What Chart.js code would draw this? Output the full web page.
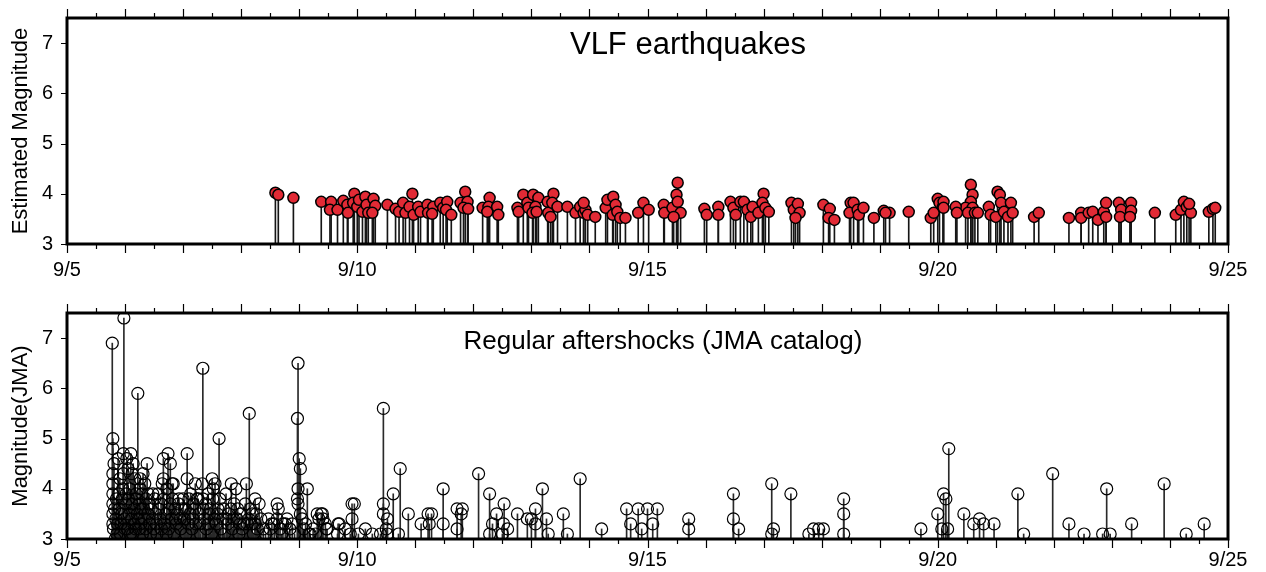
<!DOCTYPE html>
<html lang="en">
<head>
<meta charset="UTF-8">
<title>VLF earthquakes / Regular aftershocks</title>
<script src="https://cdn.jsdelivr.net/npm/chart.js"></script>
<style>
  html, body { margin: 0; padding: 0; background: #fff; }
  canvas { display: block; }
</style>
</head>
<body>
<canvas id="chartVlf" width="1266" height="290"></canvas>
<canvas id="chartJma" width="1266" height="282"></canvas>
<script>
// time = days after 9/5 00:00, value = magnitude
const xTickLabels = ['9/5', '9/10', '9/15', '9/20', '9/25'];
const yTicks = [3, 4, 5, 6, 7];

const vlfEvents = [
  [3.59, 4.02], [3.64, 3.98], [3.90, 3.92], [4.38, 3.84], [4.55, 3.84], [4.53, 3.68], [4.66, 3.68],
  [4.76, 3.86], [4.83, 3.78], [4.84, 3.62], [4.95, 4.00], [4.93, 3.82], [5.00, 3.74], [5.03, 3.88],
  [5.09, 3.64], [5.14, 3.94], [5.16, 3.78], [5.19, 3.62], [5.28, 3.90], [5.31, 3.76], [5.26, 3.62],
  [5.52, 3.78], [5.66, 3.70], [5.72, 3.64], [5.79, 3.82], [5.83, 3.62], [5.95, 4.00], [5.90, 3.74],
  [5.97, 3.58], [6.05, 3.74], [6.09, 3.64], [6.21, 3.78], [6.22, 3.62], [6.31, 3.74], [6.29, 3.60],
  [6.43, 3.82], [6.48, 3.72], [6.55, 3.84], [6.53, 3.68], [6.62, 3.58], [6.78, 3.82], [6.86, 4.04],
  [6.90, 3.84], [6.83, 3.72], [6.91, 3.70], [7.16, 3.72], [7.28, 3.92], [7.26, 3.74], [7.24, 3.64],
  [7.41, 3.74], [7.43, 3.58], [7.76, 3.72], [7.78, 3.64], [7.86, 3.98], [7.93, 3.82], [7.95, 3.72],
  [8.03, 3.98], [8.12, 3.92], [8.07, 3.74], [8.02, 3.62], [8.09, 3.64], [8.28, 3.84], [8.29, 3.62],
  [8.38, 4.00], [8.36, 3.82], [8.45, 3.74], [8.33, 3.54], [8.62, 3.74], [8.76, 3.62], [8.84, 3.74],
  [8.90, 3.62], [8.93, 3.68], [8.90, 3.82], [8.97, 3.58], [9.10, 3.54], [9.28, 3.72], [9.31, 3.88],
  [9.41, 3.94], [9.45, 3.78], [9.40, 3.58], [9.48, 3.64], [9.53, 3.52], [9.62, 3.52], [9.84, 3.62],
  [9.93, 3.82], [10.02, 3.68], [10.28, 3.78], [10.29, 3.62], [10.43, 3.72], [10.52, 4.22], [10.50, 3.98],
  [10.52, 3.84], [10.57, 3.62], [10.45, 3.54], [10.98, 3.70], [11.02, 3.58], [11.22, 3.74], [11.22, 3.58],
  [11.43, 3.84], [11.48, 3.72], [11.52, 3.58], [11.60, 3.84], [11.66, 3.84], [11.72, 3.68], [11.78, 3.54],
  [11.81, 3.74], [11.91, 3.62], [12.00, 4.00], [11.98, 3.82], [12.03, 3.72], [12.09, 3.64], [12.48, 3.82],
  [12.52, 3.68], [12.59, 3.80], [12.62, 3.62], [12.55, 3.52], [13.03, 3.78], [13.14, 3.70], [13.12, 3.52],
  [13.22, 3.48], [13.50, 3.82], [13.55, 3.82], [13.48, 3.62], [13.62, 3.68], [13.64, 3.58], [13.72, 3.72],
  [13.90, 3.52], [14.07, 3.66], [14.17, 3.62], [14.10, 3.62], [14.50, 3.64], [14.88, 3.52], [14.93, 3.62],
  [15.00, 3.90], [15.03, 3.82], [15.09, 3.74], [15.10, 3.84], [15.10, 3.72], [15.57, 4.18], [15.60, 3.98],
  [15.57, 3.84], [15.48, 3.72], [15.60, 3.72], [15.52, 3.62], [15.64, 3.62], [15.69, 3.62], [15.31, 3.74],
  [15.33, 3.62], [15.88, 3.74], [15.91, 3.58], [16.03, 4.04], [16.07, 3.98], [16.09, 3.82], [16.00, 3.54],
  [16.14, 3.64], [16.21, 3.54], [16.26, 3.82], [16.29, 3.62], [16.66, 3.54], [16.74, 3.62], [17.26, 3.52],
  [17.47, 3.62], [17.47, 3.52], [17.60, 3.62], [17.67, 3.64], [17.76, 3.48], [17.86, 3.64], [17.90, 3.82],
  [17.90, 3.54], [18.12, 3.82], [18.16, 3.68], [18.14, 3.54], [18.33, 3.82], [18.33, 3.66], [18.31, 3.54],
  [18.74, 3.62], [19.10, 3.58], [19.19, 3.68], [19.24, 3.84], [19.29, 3.74], [19.36, 3.62], [19.33, 3.80],
  [19.67, 3.64], [19.74, 3.70], [19.78, 3.72]
];

const jmaEvents = [
  // largest shocks
  [0.78, 6.9], [0.79, 5.0], [0.79, 4.8], [0.98, 7.4], [1.22, 5.9], [2.34, 6.4], [2.62, 5.0],
  [3.14, 5.5], [3.98, 6.5], [3.97, 5.4], [5.45, 5.6],
  // first days
  [0.81, 4.5], [0.79, 4.3], [0.79, 4.1], [0.79, 3.9], [0.79, 3.7], [0.79, 3.5], [0.79, 3.3], [0.80, 3.2],
  [0.88, 4.6], [0.97, 4.7], [1.10, 4.7], [1.03, 4.6], [1.14, 4.5], [1.05, 4.4], [0.97, 4.3], [0.91, 4.2],
  [1.12, 4.3], [1.17, 4.2], [1.26, 4.2], [1.31, 4.3], [1.38, 4.5], [1.34, 4.1], [1.26, 4.0], [1.40, 3.9],
  [1.48, 3.9], [1.57, 3.9], [1.66, 4.6], [1.74, 4.7], [1.78, 4.5], [1.81, 4.1], [1.66, 4.2], [1.64, 4.1],
  [1.72, 4.0], [1.78, 3.7], [1.86, 3.6], [1.93, 3.8], [2.07, 4.7], [2.07, 4.2], [2.10, 3.8], [2.21, 4.1],
  [2.33, 4.1], [2.24, 3.8], [2.34, 3.8], [2.43, 3.9], [2.50, 4.2], [2.52, 4.0], [2.47, 3.6], [2.55, 4.1],
  [1.83, 4.1],
  [0.84, 3.4], [0.86, 3.1], [0.90, 3.6], [0.93, 3.3], [0.95, 3.8], [1.00, 3.2], [1.02, 3.9], [1.07, 3.5],
  [1.09, 3.1], [1.12, 3.7], [1.15, 3.3], [1.19, 3.9], [1.21, 3.5], [1.24, 3.2], [1.28, 3.6], [1.30, 3.1],
  [1.33, 3.4], [1.36, 3.8], [1.43, 3.3], [1.45, 3.6], [1.50, 3.2], [1.53, 3.5], [1.55, 3.1], [1.60, 3.4],
  [1.62, 3.7], [1.68, 3.3], [1.70, 3.5], [1.75, 3.2], [1.80, 3.4], [1.84, 3.1], [1.88, 3.3], [1.90, 3.5],
  [1.96, 3.2], [1.98, 3.6], [2.02, 3.4], [2.05, 3.1], [2.12, 3.5], [2.15, 3.2], [2.18, 3.7], [2.22, 3.3],
  [2.27, 3.5], [2.30, 3.1], [2.37, 3.4], [2.40, 3.2], [2.45, 3.5], [2.49, 3.1], [2.57, 3.3], [2.60, 3.6],
  [2.65, 3.2], [2.68, 3.4], [2.71, 3.1], [2.77, 3.3], [2.85, 3.2], [2.93, 3.4], [2.96, 3.1], [3.02, 3.2],
  [3.11, 3.3], [3.21, 3.1], [3.28, 3.2], [3.34, 3.4], [3.42, 3.1], [3.50, 3.2], [3.57, 3.3], [3.67, 3.2],
  [3.70, 3.1], [3.76, 3.3], [3.88, 3.3], [3.92, 3.1], [4.08, 3.2], [4.11, 3.3], [4.24, 3.2], [4.28, 3.1],
  [0.82, 3.6], [0.83, 3.0], [0.85, 3.8], [0.87, 3.3], [0.89, 3.9], [0.92, 3.1], [0.94, 3.5], [0.96, 4.0],
  [0.99, 3.4], [1.01, 3.7], [1.04, 3.2], [1.06, 3.8], [1.08, 4.0], [1.11, 3.4], [1.13, 3.1], [1.16, 3.6],
  [1.18, 3.2], [1.20, 3.8], [1.23, 3.4], [1.25, 3.7], [1.27, 3.3], [1.29, 3.9], [1.32, 3.6], [1.35, 3.2],
  [1.39, 3.5], [1.41, 3.7], [1.44, 3.1], [1.47, 3.4], [1.51, 3.8], [1.54, 3.3], [1.58, 3.6], [1.63, 3.2],
  [1.67, 3.8], [1.71, 3.1], [1.76, 3.6], [1.82, 3.8], [1.87, 3.4], [1.92, 3.7], [1.95, 3.4], [2.00, 3.8],
  [2.04, 3.6], [2.09, 3.3], [2.13, 3.9], [2.17, 3.4], [2.20, 3.6], [2.26, 3.8], [2.29, 3.3], [2.35, 3.6],
  [2.39, 3.7], [2.44, 3.3], [2.51, 3.8], [2.54, 3.4], [2.59, 3.5], [2.63, 3.8], [2.69, 3.6], [2.75, 3.4],
  [2.82, 3.6], [2.87, 3.4], [2.94, 3.6], [3.00, 3.5], [3.05, 3.3], [3.13, 3.4], [3.18, 3.3], [3.26, 3.5],
  [2.74, 3.9], [2.83, 4.1], [2.91, 4.0], [3.09, 4.1], [2.88, 3.7], [2.79, 3.5], [2.98, 3.3], [3.07, 3.7],
  [3.16, 3.6], [3.24, 3.8], [3.31, 3.7], [3.19, 3.5], [3.24, 3.3], [3.38, 3.2], [3.47, 3.4], [3.53, 3.3],
  [3.62, 3.7], [3.64, 3.6], [3.62, 3.4], [3.72, 3.3], [3.79, 3.4], [3.84, 3.2], [4.00, 4.6], [4.02, 4.4],
  [3.98, 4.0], [4.14, 4.0], [3.97, 3.8], [3.98, 3.7], [4.02, 3.5], [4.05, 3.4], [4.17, 3.1], [4.40, 3.5],
  [4.41, 3.4], [4.47, 3.2], [4.67, 3.3], [4.66, 3.1],
  // later
  [4.31, 3.5], [4.19, 3.1], [4.38, 3.5], [4.34, 3.4], [4.45, 3.3], [4.48, 3.2], [4.69, 3.3], [4.79, 3.2],
  [4.91, 3.7], [4.95, 3.7], [4.91, 3.4], [4.88, 3.1], [5.02, 3.1], [5.14, 3.2], [5.26, 3.1], [5.40, 3.1],
  [5.52, 3.1], [5.71, 3.1], [5.74, 4.4], [5.62, 3.9], [5.45, 3.7], [5.45, 3.5], [5.52, 3.4], [5.50, 3.2],
  [5.88, 3.5], [6.10, 3.3], [6.22, 3.5], [6.28, 3.5], [6.24, 3.3], [6.48, 4.0], [6.48, 3.3], [6.72, 3.6],
  [6.81, 3.6], [6.79, 3.5], [6.72, 3.2], [7.09, 4.3], [7.28, 3.9], [7.40, 3.5], [7.33, 3.3], [7.53, 3.7],
  [7.52, 3.3], [7.59, 3.2], [7.50, 3.1], [7.28, 3.1], [7.76, 3.5], [7.93, 3.4], [8.00, 3.4], [8.07, 3.6],
  [8.19, 4.0], [8.07, 3.3], [8.26, 3.4], [8.29, 3.1], [8.55, 3.5], [8.62, 3.1], [8.84, 4.2], [9.21, 3.2],
  [9.64, 3.6], [9.71, 3.3], [9.84, 3.6], [9.90, 3.2], [10.00, 3.6], [10.09, 3.3], [10.17, 3.6], [10.71, 3.4],
  [10.71, 3.2], [11.48, 3.9], [11.48, 3.4], [11.57, 3.2], [12.14, 4.1], [12.17, 3.2], [12.14, 3.1], [12.47, 3.9],
  [12.78, 3.1], [12.86, 3.2], [12.95, 3.2], [13.03, 3.2], [13.38, 3.8], [13.38, 3.5], [13.38, 3.1], [14.71, 3.2],
  [15.00, 3.5], [15.10, 3.9], [15.14, 3.8], [15.19, 4.8], [15.07, 3.2], [15.17, 3.2], [15.45, 3.5], [15.62, 3.3],
  [15.72, 3.4], [15.79, 3.3], [15.97, 3.3], [16.38, 3.9], [16.48, 3.1], [16.98, 4.3], [17.26, 3.3], [17.52, 3.1],
  [17.84, 3.1], [17.97, 3.1], [17.91, 4.0], [18.34, 3.3], [18.90, 4.1], [19.28, 3.1], [19.59, 3.3]
];

Chart.defaults.font.family = '"Liberation Sans", Arial, Helvetica, sans-serif';
Chart.defaults.color = '#000';

// frame, outward ticks and panel title
const framePlugin = {
    id: 'frame',
    afterDraw(chart, args, opts) {
        const ctx = chart.ctx;
        const a = chart.chartArea;
        const xs = chart.scales.x;
        const ys = chart.scales.y;
        ctx.save();
        ctx.strokeStyle = '#000';
        ctx.lineWidth = 1.2;
        ctx.beginPath();
        for (let v = xs.min; v <= xs.max + 1e-9; v += 0.5) {
            const px = Math.round(xs.getPixelForValue(v)) + 0.5;
            const len = Number.isInteger(v) ? 9 : 5;
            ctx.moveTo(px, a.bottom);
            ctx.lineTo(px, a.bottom + len);
            ctx.moveTo(px, a.top);
            ctx.lineTo(px, a.top - len);
        }
        yTicks.forEach(v => {
            const py = Math.round(ys.getPixelForValue(v)) + 0.5;
            ctx.moveTo(a.left - 6, py);
            ctx.lineTo(a.left, py);
        });
        ctx.stroke();
        ctx.lineWidth = 3;
        ctx.strokeRect(a.left, a.top, a.right - a.left, a.bottom - a.top);

        ctx.fillStyle = '#000';
        ctx.font = opts.size + 'px "Liberation Sans", Arial, sans-serif';
        ctx.textAlign = 'center';
        ctx.textBaseline = 'middle';
        ctx.fillText(opts.text, opts.x, opts.y);
        ctx.restore();
    }
};

function makeChart(id, events, cfg) {
    const stems = events.map(e => ({ x: e[0], y: [3, e[1]] }));
    const heads = events.map(e => ({ x: e[0], y: e[1] }));
    return new Chart(document.getElementById(id), {
        type: 'bar',
        data: {
            datasets: [{
                type: 'scatter',
                data: heads,
                order: 0,
                pointRadius: cfg.radius,
                pointBackgroundColor: cfg.fill,
                pointBorderColor: '#000',
                pointBorderWidth: cfg.border,
                pointHoverRadius: cfg.radius
            }, {
                type: 'bar',
                data: stems,
                order: 1,
                grouped: false,
                barThickness: 1,
                backgroundColor: cfg.stem,
                borderWidth: 0
            }]
        },
        options: {
            responsive: false,
            animation: false,
            devicePixelRatio: 1,
            layout: { padding: { top: cfg.top, right: 38, left: 0, bottom: 0 } },
            plugins: {
                legend: { display: false },
                tooltip: { enabled: false },
                frame: { text: cfg.title, x: cfg.titleX, y: cfg.titleY, size: cfg.titleSize }
            },
            scales: {
                x: {
                    type: 'linear',
                    min: 0,
                    max: 20,
                    offset: false,
                    grid: { display: false, drawTicks: false },
                    border: { display: false },
                    ticks: {
                        stepSize: 5,
                        autoSkip: false,
                        maxRotation: 0,
                        padding: cfg.xPad,
                        font: { size: 20 },
                        callback: v => xTickLabels[v / 5]
                    },
                    afterFit: s => {
                        s.height = cfg.xHeight;
                        s.paddingLeft = 0;
                        s.paddingRight = 0;
                    }
                },
                y: {
                    min: 3,
                    max: 7.5,
                    grid: { display: false, drawTicks: false },
                    border: { display: false },
                    ticks: { stepSize: 1, padding: 14, font: { size: 20 } },
                    afterBuildTicks: s => { s.ticks = s.ticks.filter(t => yTicks.includes(t.value)); },
                    afterFit: s => {
                        s.width = 67;
                        s.paddingTop = 0;
                        s.paddingBottom = 0;
                    },
                    title: {
                        display: true,
                        text: cfg.yTitle,
                        font: { size: 22 },
                        padding: { top: 8, bottom: 0 }
                    }
                }
            }
        },
        plugins: [framePlugin]
    });
}

makeChart('chartVlf', vlfEvents, {
    top: 18, xHeight: 46, xPad: 14, radius: 5.5, border: 1.5, fill: '#e22a35', stem: '#151515',
    title: 'VLF earthquakes', titleX: 688, titleY: 45, titleSize: 31,
    yTitle: 'Estimated Magnitude'
});

makeChart('chartJma', jmaEvents, {
    top: 23, xHeight: 33, xPad: 9, radius: 6, border: 1.2, fill: 'rgba(255,255,255,0)', stem: '#2a2a2a',
    title: 'Regular aftershocks (JMA catalog)', titleX: 663, titleY: 52, titleSize: 26,
    yTitle: 'Magnitude(JMA)'
});
</script>
</body>
</html>
